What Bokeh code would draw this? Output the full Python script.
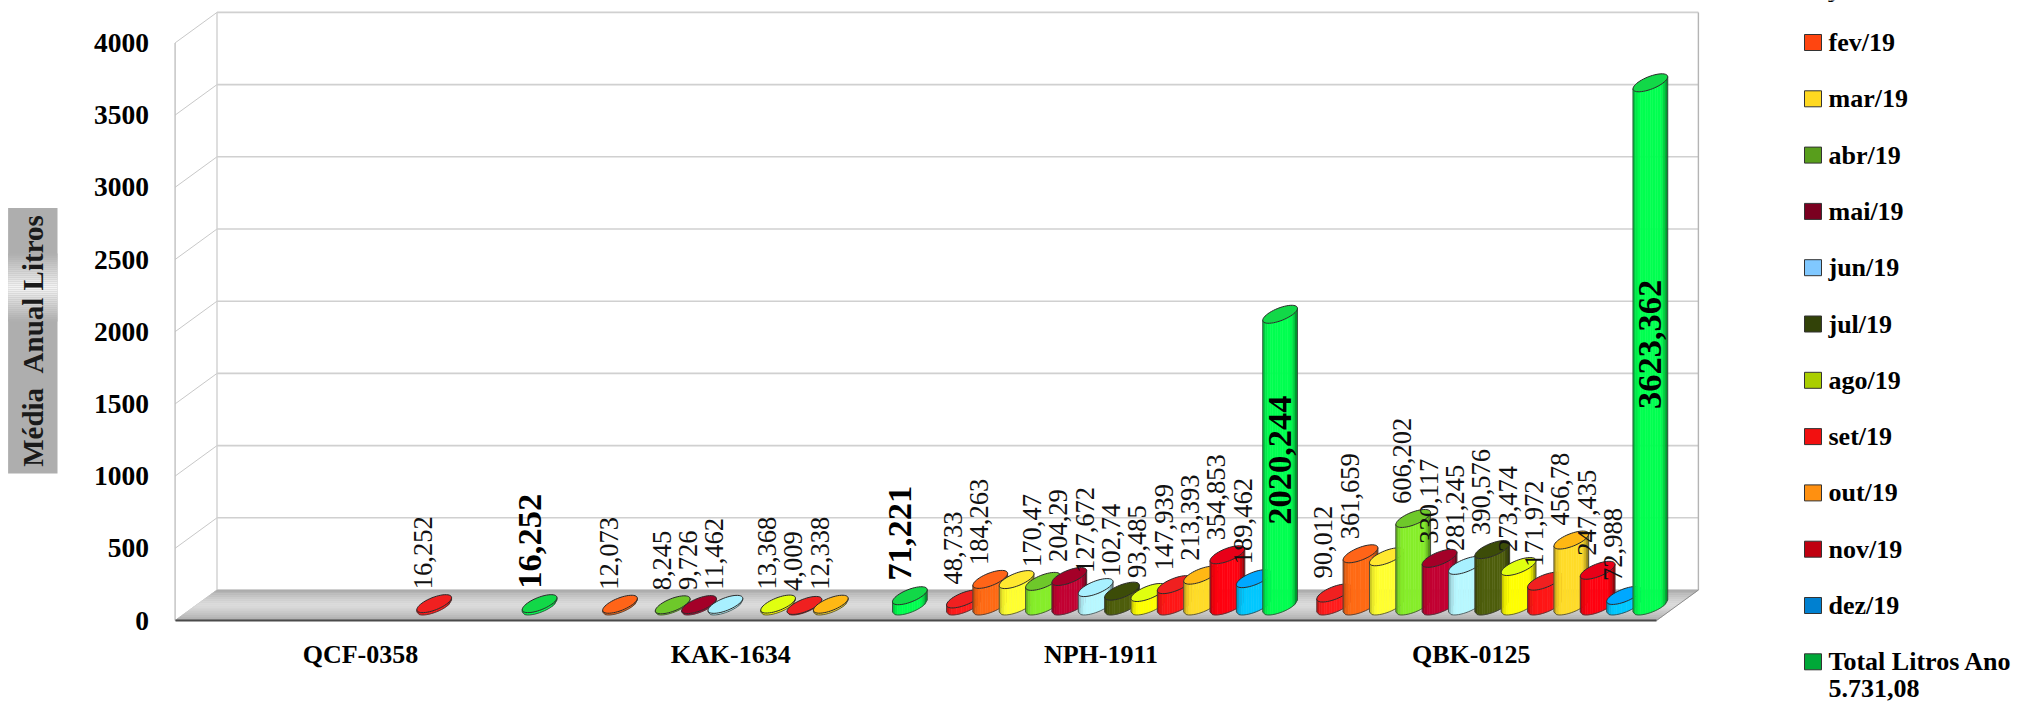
from bokeh.plotting import figure, ColumnDataSource
from bokeh.models import Range1d, FixedTicker, LinearAxis
from bokeh.core.properties import value
from bokeh.embed import file_html
from bokeh.resources import INLINE
import math

# ---------- data ----------
vehicles = ["QCF-0358", "KAK-1634", "NPH-1911", "QBK-0125"]
months = ["jan/19", "fev/19", "mar/19", "abr/19", "mai/19", "jun/19", "jul/19",
          "ago/19", "set/19", "out/19", "nov/19", "dez/19", "Total Litros Ano"]
qcf_0358 = [None, None, None, None, None, None, None, None, 16.252, None, None, None, 16.252]
kak_1634 = [None, 12.073, None, 8.245, 9.726, 11.462, None, 13.368, 4.009, 12.338, None, None, 71.221]
nph_1911 = [48.733, 184.263, 182.9, 170.47, 204.29, 127.672, 102.74, 93.485, 147.939, 213.393, 354.853, 189.462, 2020.244]
qbk_0125 = [90.012, 361.659, 340.9, 606.202, 330.117, 281.245, 390.576, 273.474, 171.972, 456.78, 247.435, 72.988, 3623.362]
series_by_vehicle = [qcf_0358, kak_1634, nph_1911, qbk_0125]
no_label_month = "mar/19"
y_ticks = [0, 500, 1000, 1500, 2000, 2500, 3000, 3500, 4000]
total_note = "5.731,08"
y_title = "Média \u00a0Anual Litros"

side_colors = ["#ff1c1c", "#ff6a14", "#ffff30", "#86ee2a", "#c20032", "#b8f8ff", "#4e5e0c",
               "#ffff00", "#ff1616", "#ffdc28", "#ff0010", "#00c8ff", "#00ff50"]
top_colors = ["#f02020", "#ff6418", "#ffe830", "#6ec82a", "#a40028", "#a8f0ff", "#3c4c08",
              "#e0ff10", "#f02020", "#ffb814", "#e80018", "#00a8ff", "#12d848"]
legend_colors = ["#ff1010", "#ff4510", "#ffd820", "#589e1c", "#7a0020", "#80c8ff", "#324208",
                 "#aace00", "#f21010", "#ff9010", "#c00010", "#0080d0", "#00a838"]

# ---------- scales (pixels of the picture) ----------
W, H = 2020, 701
PX_CAT = 370.25          # px per vehicle
PX_VAL = 0.1444          # px per litre
CAT0_PX = 360.0
Y0_PX = 620.0

def dx(px):              # horizontal px length -> x units
    return px / PX_CAT
def dy(px):              # vertical px length -> y units
    return px / PX_VAL
def X(px):
    return (px - CAT0_PX) / PX_CAT
def Y(px):
    return (Y0_PX - px) / PX_VAL

p = figure(width=W, height=H, output_backend="svg", toolbar_location=None,
           x_range=Range1d(X(0), X(W)), y_range=Range1d(Y(H), Y(0)),
           min_border=0, min_border_left=0, min_border_right=0, min_border_top=0, min_border_bottom=0,
           x_axis_type=None, y_axis_type=None, outline_line_color=None,
           styles={"position": "absolute", "left": "0px", "top": "0px"})
p.xgrid.visible = False
p.ygrid.visible = False
p.background_fill_color = "white"
p.border_fill_color = "white"

FONT = value("Liberation Serif")

# ---------- walls / floor ----------
front_l, front_r = X(174.6), X(1656)
depth_x, depth_y = dx(41.9), dy(30.5)
grid_ticks = y_ticks

p.segment([front_l + depth_x] * len(grid_ticks), [t + depth_y for t in grid_ticks],
          [front_r + depth_x] * len(grid_ticks), [t + depth_y for t in grid_ticks],
          line_color="#d0d0d0", line_width=1.6)
p.segment([front_l] * len(grid_ticks), grid_ticks,
          [front_l + depth_x] * len(grid_ticks), [t + depth_y for t in grid_ticks],
          line_color="#c8c8c8", line_width=1)
p.segment([front_l, front_l + depth_x, front_r + depth_x], [0, depth_y, depth_y],
          [front_l, front_l + depth_x, front_r + depth_x], [4000, 4000 + depth_y, 4000 + depth_y],
          line_color=["#c0c0c0", "#d0d0d0", "#b4b4b4"], line_width=1.4)

n_floor = 16
fx, fy, fc = [], [], []
for i in range(n_floor):
    a, b = i / n_floor, (i + 1) / n_floor
    f = abs((a + b) / 2 - 0.5) * 2
    g = int(218 - 50 * f ** 1.5)
    fx.append([front_l + depth_x * (1 - a), front_r + depth_x * (1 - a),
               front_r + depth_x * (1 - b), front_l + depth_x * (1 - b)])
    fy.append([depth_y * (1 - a), depth_y * (1 - a), depth_y * (1 - b), depth_y * (1 - b)])
    fc.append("#%02x%02x%02x" % (g, g, g))
p.patches(fx, fy, fill_color=fc, line_color=fc, line_width=0.5)
p.line([front_r, front_r + depth_x], [0, depth_y], line_color="#8c8c8c", line_width=1)

# ---------- cylinders ----------
A, K, B = 17.35, 6.0, 6.7        # ellipse half width, tilt, half minor (px)
STEP, SHIFT = 26.35, 21.0
BASE = dy(14.5)                  # ellipse centre of the base above the front edge

def shade(hex_c, f):
    r, g, b = int(hex_c[1:3], 16), int(hex_c[3:5], 16), int(hex_c[5:7], 16)
    return "#%02x%02x%02x" % (int(r * f), int(g * f), int(b * f))

def low(t):                      # lower rim of ellipse, t in [-1, 1] across the width
    c = t
    s = math.sqrt(max(0.0, 1 - t * t))
    return K * c - B * s

def ell_points(cx, cy):
    xs, ys = [], []
    for i in range(48):
        th = 2 * math.pi * i / 48
        xs.append(cx + dx(A * math.cos(th)))
        ys.append(cy + dy(K * math.cos(th) + B * math.sin(th)))
    return xs, ys

px_, py_, pf, pfa, pl, plw = [], [], [], [], [], []
def add(xs, ys, fill, fa, line, lw):
    px_.append(xs); py_.append(ys); pf.append(fill); pfa.append(fa); pl.append(line); plw.append(lw)

lab_x, lab_y, lab_t, lab_off = [], [], [], []
big_x, big_y, big_t, big_off, big_align = [], [], [], [], []

for c, vals in enumerate(series_by_vehicle):
    for s, v in enumerate(vals):
        if v is None:
            continue
        cx = c + dx(SHIFT + (s - 6) * STEP)
        n = 14
        ts = [-1 + 2 * (i / n) for i in range(n + 1)]
        for i in range(n):
            t0, t1 = ts[i], ts[i + 1]
            tm = (t0 + t1) / 2
            edge = max(0, abs(tm) - 0.55) / 0.45
            f = 1 - (0.55 if tm > 0 else 0.3) * edge ** 2
            col = shade(side_colors[s], f)
            x0, x1 = cx + dx(A * t0), cx + dx(A * t1)
            y0b, y1b = BASE + dy(low(t0)), BASE + dy(low(t1))
            add([x0, x1, x1, x0], [y0b, y1b, y1b + v, y0b + v], col, 1, col, 0.5)
        # side outline
        ox = [cx + dx(A * t) for t in ts] + [cx + dx(A), cx - dx(A)]
        oy = [BASE + dy(low(t)) for t in ts] + [BASE + v + dy(K), BASE + v - dy(K)]
        add(ox, oy, "#000000", 0, "#3a3a3a", 0.8)
        ex, ey = ell_points(cx, BASE + v)
        add(ex, ey, top_colors[s], 1, "#2a2a2a", 1)

        text = repr(v).replace(".", ",")
        if s == 12:
            if v > 1000:
                big_x.append(cx); big_y.append(BASE + v / 2); big_t.append(text)
                big_off.append(0); big_align.append("center")
            else:
                big_x.append(cx); big_y.append(BASE + v + dy(15)); big_t.append(text)
                big_off.append(-10); big_align.append("left")
        elif months[s] != no_label_month:
            lab_x.append(cx); lab_y.append(BASE + v + dy(14.5)); lab_t.append(text); lab_off.append(-11)

p.patches("x", "y", fill_color="f", fill_alpha="fa", line_color="l", line_width="w",
          source=ColumnDataSource(dict(x=px_, y=py_, f=pf, fa=pfa, l=pl, w=plw)))

p.text(lab_x, lab_y, text=lab_t, angle=math.pi / 2, x_offset=lab_off, text_align="left",
       text_baseline="middle", text_font=FONT, text_font_size="26.5px", text_color="#111111")
p.text(big_x, big_y, text=big_t, angle=math.pi / 2, x_offset=big_off, text_align=big_align,
       text_baseline="middle", text_font=FONT, text_font_size="34.5px", text_font_style="bold",
       text_color="#000000")

# ---------- axes ----------
yax = LinearAxis(fixed_location=front_l, ticker=FixedTicker(ticks=y_ticks),
                 major_tick_line_color=None, minor_tick_line_color=None, axis_line_color=None,
                 major_label_text_font="Liberation Serif", major_label_text_font_style="bold",
                 major_label_text_font_size="27.5px", major_label_text_color="#000000",
                 major_label_standoff=20)
p.add_layout(yax, "left")
xax = LinearAxis(fixed_location=0, ticker=FixedTicker(ticks=list(range(len(vehicles)))),
                 major_label_overrides={i: v for i, v in enumerate(vehicles)},
                 major_tick_line_color=None, minor_tick_line_color=None,
                 axis_line_color="#4a4a4a", axis_line_width=2, bounds=(front_l, front_r),
                 major_label_text_font="Liberation Serif", major_label_text_font_style="bold",
                 major_label_text_font_size="26px", major_label_text_color="#000000",
                 major_label_standoff=13)
p.add_layout(xax, "below")

# ---------- y title with its grey box ----------
box_l, box_r, box_t, box_b = X(7.6), X(57), Y(207.6), Y(473)
p.quad(left=box_l, right=box_r, top=box_t, bottom=box_b, fill_color="#aeaeae", line_color=None)
band_n = 34
band_top, band_bot = 253.0, 321.0
for i in range(band_n):
    y0 = band_top + (band_bot - band_top) * i / band_n
    y1 = band_top + (band_bot - band_top) * (i + 1) / band_n
    f = 1 - abs((y0 + y1) / 2 - 287) / 34
    g = int(174 + 72 * f)
    p.quad(left=box_l, right=box_r, top=Y(y0), bottom=Y(y1), fill_color="#%02x%02x%02x" % (g, g, g),
           line_color=None)
p.text([X(32.5)], [Y(340.5)], text=[y_title], angle=math.pi / 2, text_align="center", text_baseline="middle",
       text_font=FONT, text_font_style="bold", text_font_size="29px", text_color="#1a1a1a")

# ---------- legend ----------
leg_y = [42 + (i - 1) * 56.3 for i in range(len(months))]
leg_text_y = list(leg_y)
leg_text_y[0] = -12.0     # only the descender of this row shows at the picture's top edge
p.rect([X(1812.5)] * len(months), [Y(v) for v in leg_y], width=dx(17), height=dy(16),
       fill_color=legend_colors, line_color="#333333", line_width=1)
p.text([X(1828)] * len(months), [Y(v) for v in leg_text_y], text=months, text_align="left", text_baseline="middle",
       text_font=FONT, text_font_style="bold", text_font_size="26px", text_color="#000000")
p.text([X(1828)], [Y(688)], text=[total_note], text_align="left", text_baseline="middle",
       text_font=FONT, text_font_style="bold", text_font_size="26px", text_color="#000000")

open("out.html", "w").write(file_html(p, INLINE))
